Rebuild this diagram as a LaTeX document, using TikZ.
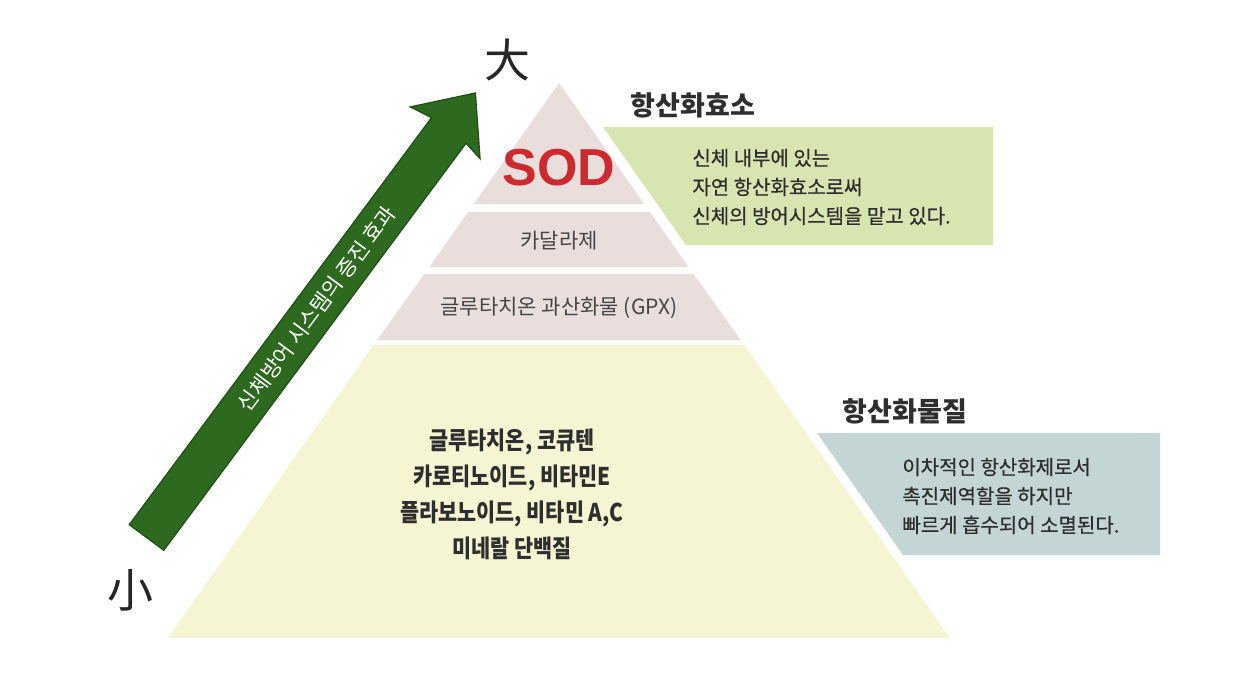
\documentclass[tikz,border=0pt]{standalone}
\usepackage{fontspec}
\setmainfont{Noto Sans CJK KR}
\newfontfamily\kr{Noto Sans CJK KR}
\newfontfamily\krm[FakeBold=0.6]{Noto Sans CJK KR}
\newfontfamily\krc[FakeStretch=0.85]{Noto Sans CJK KR}
\newfontfamily\sodfont{Liberation Sans}
\definecolor{tiercol}{HTML}{E9DEDC}
\definecolor{basecol}{HTML}{F6F5D3}
\definecolor{greenbox}{HTML}{D8E5B1}
\definecolor{bluebox}{HTML}{C3D5D4}
\definecolor{arrowgreen}{HTML}{2D6A1F}
\definecolor{arrowdark}{HTML}{1F4F15}
\definecolor{sodred}{HTML}{CC2A2E}
\definecolor{txt}{HTML}{2E2E2E}
\definecolor{tiertxt}{HTML}{454545}
\begin{document}
\begin{tikzpicture}[x=0.5pt,y=0.5pt,
  title/.style={font=\kr\bfseries\fontsize{13.5}{16}\selectfont, text=txt, inner sep=0},
  boxtext/.style={font=\krm\fontsize{10}{14.5}\selectfont, text=txt, align=left, inner sep=0, anchor=west},
  tiertext/.style={font=\kr\fontsize{10.5}{13}\selectfont, text=tiertxt, inner sep=0},
  basetext/.style={font=\krc\bfseries\fontsize{12.2}{18}\selectfont, text=txt, align=center, inner sep=0},
  hanja/.style={font=\kr\fontsize{23}{26}\selectfont, text=black!85, inner sep=0},
  arrowtext/.style={font=\kr\fontsize{10.6}{12}\selectfont, text=white, inner sep=0}]
\useasboundingbox (0,0) rectangle (1258,-676);
\fill[white] (0,0) rectangle (1258,-676);

% pyramid tiers
\fill[tiercol] (559,-83) -- (644.2,-204) -- (473.8,-204) -- cycle;
\fill[tiercol] (468.1,-212) -- (649.9,-212) -- (688.6,-267) -- (429.4,-267) -- cycle;
\fill[tiercol] (424.4,-274) -- (693.6,-274) -- (740.8,-340) -- (377.2,-340) -- cycle;
\fill[basecol] (373.7,-345) -- (744.3,-345) -- (950,-638) -- (168,-638) -- cycle;

% side boxes
\fill[greenbox] (603,-127) -- (993,-127) -- (993,-245) -- (686,-245) -- cycle;
\fill[bluebox] (817,-433) -- (1160,-433) -- (1160,-555) -- (903,-555) -- cycle;

% arrow
\begin{scope}[shift={(146.5,-537.5)}, rotate=53.4]
\fill[arrowgreen, draw=arrowdark, line width=0.6] (0,-21.5) -- (507,-21.5) -- (503,-42) -- (553,1) -- (503,45) -- (507,21.5) -- (0,21.5) -- cycle;
\end{scope}
\node[arrowtext, rotate=53.4] (arrowlabel) at (316.4,-308.6) {신체방어 시스템의 증진 효과};

% labels
\node[hanja] (big) at (507,-60) {大};
\node[hanja] (small) at (130,-590) {小};

\node[font=\sodfont\bfseries\fontsize{26}{30}\selectfont, text=sodred, inner sep=0] (sod) at (559,-168) {SOD};
\node[tiertext] (cat) at (559,-241) {카달라제};
\node[tiertext] (gpx) at (559,-308) {글루타치온 과산화물 (GPX)};
\node[basetext] (base) at (512,-494) {글루타치온, 코큐텐\\카로티노이드, 비타민E\\플라보노이드, 비타민 A,C\\미네랄 단백질};

\node[title] (enz) at (693,-105) {항산화효소};
\node[boxtext] (enztext) at (692,-187) {신체 내부에 있는\\자연 항산화효소로써\\신체의 방어시스템을 맡고 있다.};

\node[title] (sub) at (905,-411) {항산화물질};
\node[boxtext] (subtext) at (902,-496) {이차적인 항산화제로서\\촉진제역할을 하지만\\빠르게 흡수되어 소멸된다.};
\end{tikzpicture}
\end{document}
